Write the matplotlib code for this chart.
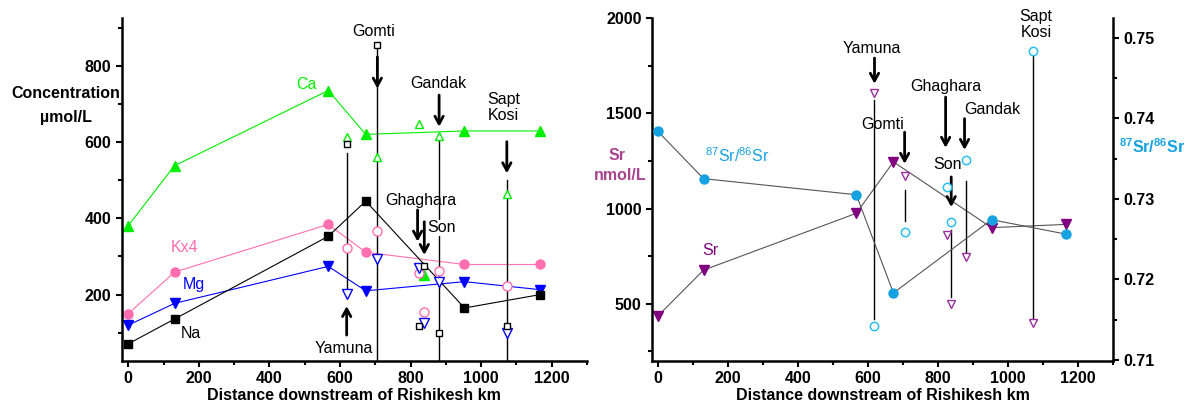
import matplotlib
matplotlib.use("Agg")
import matplotlib.pyplot as plt
from matplotlib.ticker import MultipleLocator

plt.rcParams["font.family"] = ["Liberation Sans", "DejaVu Sans"]
plt.rcParams["mathtext.fontset"] = "custom"
plt.rcParams["mathtext.rm"] = "Liberation Sans"
plt.rcParams["mathtext.bf"] = "Liberation Sans:bold"

# ── main-stem Ganga samples ─────────────────────
km_main = [0, 131, 567, 673, 953, 1167]
ca_main = [381, 538, 735, 620, 629, 629]
k4_main = [150, 259, 384, 311, 279, 279]
mg_main = [120, 177, 274, 210, 234, 213]
na_main = [71, 136, 353, 445, 165, 200]
sr_main = [435, 677, 975, 1245, 900, 917]
ratio_main = [0.7384, 0.7325, 0.7305, 0.7183, 0.7274, 0.7256]

# ── tributaries (Yamuna, Gomti, Ghaghara, Son, Gandak, Sapt Kosi) ──
km_trib = [619, 706, 824, 838, 880, 1073]
ca_trib = [613, 560, 647, 252, 615, 464]
ca_trib_filled = [False, False, False, True, False, False]
k4_trib = [323, 368, 256, 154, 262, 222]
mg_trib = [202, 294, 269, 125, 232, 100]
na_trib = [596, 855, 119, 274, 99, 119]

km_trib_sr = [619, 705, 825, 838, 879, 1072]
sr_trib = [1607, 1169, 860, 500, 746, 400]
ratio_trib = [0.7142, 0.7259, 0.7314, 0.7271, 0.7348, 0.7484]

# vertical connector lines
vline_km_left = [619, 706, 880, 1073]
vline_top_left = [572, 845, 605, 500]
vline_bot_left = [217, 26, 26, 26]
vline_km_right = [619, 705, 838, 879, 1072]
vline_top_right = [1570, 1096, 890, 1145, 1799]
vline_bot_right = [422, 935, 537, 767, 423]

# arrows and river names
arrow_km_left = [619, 706, 820, 839, 881, 1073]
arrow_from_left = [94, 823, 422, 391, 723, 601]
arrow_to_left = [170, 740, 339, 304, 640, 518]
names_left = ["Yamuna", "Gomti", "Ghaghara", "Son", "Gandak", "Sapt\nKosi"]
names_left_x = [611, 695, 828, 888, 879, 1064]
names_left_y = [60, 890, 448, 375, 754, 691]

arrow_km_right = [619, 705, 822, 838, 876]
arrow_from_right = [1790, 1401, 1585, 1166, 1472]
arrow_to_right = [1655, 1235, 1319, 1008, 1308]
names_right = ["Yamuna", "Gomti", "Ghaghara", "Son", "Gandak", "Sapt\nKosi"]
names_right_x = [611, 641, 822, 827, 956, 1080]
names_right_y = [1839, 1441, 1640, 1232, 1520, 1966]

GREEN = "#00EE00"
PINK = "#FF6FB0"
BLUE = "#0000FF"
PURPLE = "#800080"
OPEN_PURPLE = "#9A2E9E"
SKY = "#16A2E2"
CYAN = "#2BBDF0"
FS = 11.5

fig = plt.figure(figsize=(11.84, 4.03), dpi=100)
ax1 = fig.add_axes([0.1030, 0.1042, 0.3927, 0.8511])
ax2 = fig.add_axes([0.5507, 0.1042, 0.3894, 0.8511])
ax3 = ax2.twinx()


def style_axis(ax):
    ax.tick_params(which="both", direction="out", width=1.5, labelsize=11.5)
    ax.tick_params(which="major", length=4)
    ax.tick_params(which="minor", length=3)
    for lab in ax.get_xticklabels() + ax.get_yticklabels():
        lab.set_fontweight("bold")
    for s in ax.spines.values():
        s.set_linewidth(1.8)
    ax.spines["top"].set_visible(False)


def arrow(ax, x, y0, y1):
    ax.annotate("", xy=(x, y1), xytext=(x, y0),
                arrowprops=dict(arrowstyle="->,head_length=0.55,head_width=0.3",
                                lw=2, color="k", shrinkA=0, shrinkB=0))


# ── Left panel: major ions ─────────────────────
ax = ax1
ax.plot(km_main, ca_main, "^-", color=GREEN, lw=0.8, ms=7.5)
ax.plot(km_main, k4_main, "o-", color=PINK, lw=0.8, ms=6.5)
ax.plot(km_main, mg_main, "v-", color=BLUE, lw=0.8, ms=7.5)
ax.plot(km_main, na_main, "s-", color="black", lw=0.8, ms=6)

for x, top, bot in zip(vline_km_left, vline_top_left, vline_bot_left):
    ax.plot([x, x], [bot, top], color="black", lw=1)

for x, v, f in zip(km_trib, ca_trib, ca_trib_filled):
    ax.plot(x, v, "^", ms=7.5 if f else 6, color=GREEN,
            mfc=GREEN if f else "white", mew=1)
ax.plot(km_trib, k4_trib, "o", ls="none", ms=6.5, mfc="white", mec=PINK, mew=1)
ax.plot(km_trib, mg_trib, "v", ls="none", ms=6.5, mfc="white", mec=BLUE, mew=1)
ax.plot(km_trib, na_trib, "s", ls="none", ms=5, mfc="white", mec="black", mew=1)

for x, a, b in zip(arrow_km_left, arrow_from_left, arrow_to_left):
    arrow(ax, x, a, b)
for name, x, y in zip(names_left, names_left_x, names_left_y):
    kw = {}
    if name == "Son":
        kw["bbox"] = dict(fc="white", ec="none", pad=0.5)
    ax.text(x, y, name, ha="center", va="center", fontsize=FS,
            linespacing=1.1, **kw)

ax.text(504, 752, "Ca", color=GREEN, fontsize=FS, ha="center", va="center")
ax.text(160, 323, "Kx4", color=PINK, fontsize=FS, ha="center", va="center")
ax.text(185, 227, "Mg", color=BLUE, fontsize=FS, ha="center", va="center")
ax.text(176, 99, "Na", color="black", fontsize=FS, ha="center", va="center")

ax.set_xlim(-18, 1300)
ax.set_ylim(26, 925)
ax.xaxis.set_major_locator(MultipleLocator(200))
ax.xaxis.set_minor_locator(MultipleLocator(100))
ax.yaxis.set_major_locator(MultipleLocator(200))
ax.yaxis.set_minor_locator(MultipleLocator(100))
ax.spines["right"].set_visible(False)
style_axis(ax)
ax.set_xlabel("Distance downstream of Rishikesh km", fontsize=11.5,
              fontweight="bold", labelpad=1)
ax.text(-0.12, 0.781, "Concentration", transform=ax.transAxes, fontsize=FS,
        fontweight="bold", ha="center", va="center")
ax.text(-0.12, 0.711, "µmol/L", transform=ax.transAxes, fontsize=FS,
        fontweight="bold", ha="center", va="center")

# ── Right panel: Sr and 87Sr/86Sr ─────────────
ax = ax2
ax.plot(km_main, sr_main, "v-", color="#555555", lw=0.8, ms=7.5,
        mfc=PURPLE, mec=PURPLE)
ax3.plot(km_main, ratio_main, "o-", color="#555555", lw=0.8, ms=6.5,
         mfc=SKY, mec=SKY)

for x, top, bot in zip(vline_km_right, vline_top_right, vline_bot_right):
    ax.plot([x, x], [bot, top], color="black", lw=1)

ax.plot(km_trib_sr, sr_trib, "v", ls="none", ms=6, mfc="white",
        mec=OPEN_PURPLE, mew=1)
ax3.plot(km_trib_sr, ratio_trib, "o", ls="none", ms=6, mfc="white",
         mec=CYAN, mew=1.1)

for x, a, b in zip(arrow_km_right, arrow_from_right, arrow_to_right):
    arrow(ax, x, a, b)
for name, x, y in zip(names_right, names_right_x, names_right_y):
    ax.text(x, y, name, ha="center", va="center", fontsize=FS,
            linespacing=1.1)

ax.text(151, 778, "Sr", color=PURPLE, fontsize=FS, ha="center", va="center")
ax.text(226, 1279, r"$^{87}$Sr/$^{86}$Sr", color=SKY, fontsize=FS,
        ha="center", va="center")

ax.set_xlim(-16, 1300)
ax.set_ylim(200, 2000)
ax3.set_ylim(0.70985, 0.75245)
ax.xaxis.set_major_locator(MultipleLocator(200))
ax.xaxis.set_minor_locator(MultipleLocator(100))
ax.yaxis.set_major_locator(MultipleLocator(500))
ax.yaxis.set_minor_locator(MultipleLocator(250))
ax3.yaxis.set_major_locator(MultipleLocator(0.01))
ax3.yaxis.set_minor_locator(MultipleLocator(0.005))
ax.spines["right"].set_visible(False)
style_axis(ax)
style_axis(ax3)
ax3.spines["left"].set_visible(False)
ax3.spines["bottom"].set_visible(False)
ax.set_xlabel("Distance downstream of Rishikesh km", fontsize=11.5,
              fontweight="bold", labelpad=1)
ax.text(-0.075, 0.60, "Sr", transform=ax.transAxes, fontsize=FS,
        fontweight="bold", color="#A8448E", ha="center", va="center")
ax.text(-0.068, 0.54, "nmol/L", transform=ax.transAxes, fontsize=FS,
        fontweight="bold", color="#A8448E", ha="center", va="center")
ax3.text(1.085, 0.625, r"$\mathbf{^{87}}$Sr/$\mathbf{^{86}}$Sr",
         transform=ax3.transAxes, fontsize=FS, fontweight="bold", color=SKY,
         ha="center", va="center")

fig.savefig("out.png", dpi=100)
